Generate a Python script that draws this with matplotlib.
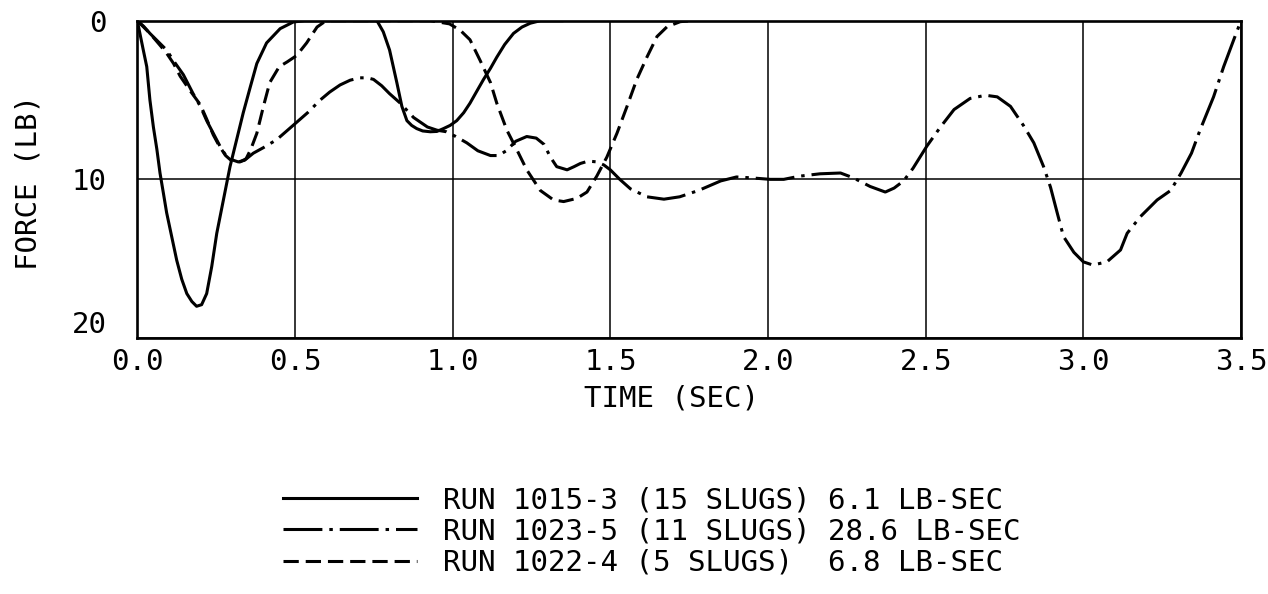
import matplotlib
matplotlib.use("Agg")
import matplotlib.pyplot as plt
from matplotlib.lines import Line2D
from matplotlib.transforms import ScaledTranslation

# ---------------- data ----------------
run_1015_t = [0, 0.019, 0.03, 0.04, 0.051, 0.062, 0.072, 0.083, 0.093, 0.109, 0.125,
              0.141, 0.157, 0.173, 0.188, 0.204, 0.22, 0.236, 0.252, 0.273, 0.294,
              0.315, 0.336, 0.358, 0.379, 0.41, 0.453, 0.495, 0.53, 0.76, 0.78, 0.80,
              0.823, 0.839, 0.855, 0.87, 0.886, 0.905, 0.929, 0.95, 0.971, 0.992,
              1.013, 1.035, 1.055, 1.075, 1.098, 1.12, 1.14, 1.165, 1.193, 1.22,
              1.246, 1.278, 1.35]
run_1015_f = [0, 1.85, 2.9, 5.0, 6.7, 8.1, 9.6, 10.9, 12.1, 13.6, 15.1,
              16.3, 17.2, 17.7, 18.0, 17.9, 17.2, 15.5, 13.4, 11.3, 9.2,
              7.5, 5.8, 4.2, 2.7, 1.4, 0.5, 0.08, 0, 0, 0.7, 1.85,
              3.9, 5.4, 6.3, 6.6, 6.8, 6.95, 7.0, 6.98, 6.8, 6.6,
              6.3, 5.8, 5.2, 4.5, 3.7, 3.0, 2.3, 1.5, 0.8, 0.4,
              0.16, 0, 0]

run_1023_t = [0, 0.02, 0.04, 0.05, 0.093, 0.114, 0.146, 0.177, 0.2, 0.22, 0.241,
              0.262, 0.284, 0.305, 0.32, 0.34, 0.368, 0.40, 0.442, 0.494, 0.54,
              0.58, 0.61, 0.643, 0.675, 0.706, 0.73, 0.749, 0.775, 0.80, 0.834,
              0.876, 0.92, 0.95, 0.98, 1.01, 1.045, 1.08, 1.12, 1.145, 1.17, 1.2,
              1.235, 1.265, 1.29, 1.31, 1.33, 1.363, 1.385, 1.405, 1.43, 1.458,
              1.48, 1.50, 1.53, 1.564, 1.616, 1.67, 1.72, 1.78, 1.85, 1.90, 1.943,
              2.007, 2.05, 2.10, 2.165, 2.23, 2.27, 2.324, 2.372, 2.40, 2.43, 2.46,
              2.504, 2.547, 2.59, 2.641, 2.69, 2.727, 2.769, 2.81, 2.843, 2.874,
              2.896, 2.917, 2.937, 2.97, 3.0, 3.03, 3.075, 3.118, 3.139, 3.181,
              3.234, 3.277, 3.31, 3.343, 3.37, 3.413, 3.445, 3.477, 3.5]
run_1023_f = [0, 0.35, 0.8, 1.0, 1.85, 2.5, 3.4, 4.6, 5.4, 6.3, 7.1,
              7.9, 8.6, 8.8, 8.9, 8.8, 8.35, 8.0, 7.5, 6.6, 5.8,
              5.0, 4.5, 4.05, 3.75, 3.6, 3.6, 3.7, 4.1, 4.6, 5.2,
              6.1, 6.7, 6.9, 7.0, 7.3, 7.7, 8.2, 8.5, 8.5, 8.2, 7.6,
              7.3, 7.4, 7.8, 8.6, 9.2, 9.4, 9.2, 9.0, 8.85, 8.9,
              9.1, 9.4, 10.0, 10.6, 11.1, 11.25, 11.1, 10.7, 10.1, 9.85, 9.9,
              10.0, 10.0, 9.8, 9.65, 9.6, 9.9, 10.45, 10.8, 10.55, 10.1, 9.3,
              7.9, 6.7, 5.6, 4.9, 4.7, 4.8, 5.4, 6.6, 7.7, 9.2,
              10.5, 12.1, 13.6, 14.6, 15.2, 15.4, 15.2, 14.45, 13.4, 12.35,
              11.3, 10.7, 9.6, 8.35, 6.9, 4.8, 2.9, 1.2, 0]

run_1022_t = [0, 0.02, 0.04, 0.07, 0.093, 0.115, 0.136, 0.167, 0.2, 0.22, 0.241,
              0.26, 0.28, 0.30, 0.326, 0.345, 0.36, 0.379, 0.40, 0.42, 0.45,
              0.475, 0.505, 0.537, 0.555, 0.57, 0.59, 0.61, 0.93, 0.99, 1.024,
              1.055, 1.087, 1.12, 1.14, 1.172, 1.204, 1.235, 1.278, 1.32, 1.352,
              1.394, 1.426, 1.457, 1.489, 1.521, 1.553, 1.584, 1.616, 1.648,
              1.68, 1.722, 1.76]
run_1022_f = [0, 0.4, 0.8, 1.5, 2.05, 2.7, 3.5, 4.4, 5.3, 6.2, 7.2,
              7.9, 8.5, 8.85, 8.9, 8.7, 8.1, 7.1, 5.4, 3.9, 2.9,
              2.6, 2.2, 1.4, 0.85, 0.4, 0.12, 0, 0, 0.2, 0.6,
              1.2, 2.5, 3.9, 5.2, 6.9, 8.15, 9.4, 10.7, 11.3, 11.4,
              11.2, 10.8, 9.8, 8.6, 7.1, 5.4, 3.7, 2.3, 1.0,
              0.38, 0.06, 0]

x_ticks = [0.0, 0.5, 1.0, 1.5, 2.0, 2.5, 3.0, 3.5]
x_tick_labels = ["0.0", "0.5", "1.0", "1.5", "2.0", "2.5", "3.0", "3.5"]
y_ticks = [0, 10, 20]
y_tick_labels = ["0", "10", "20"]

labels = ["RUN 1015-3 (15 SLUGS) 6.1 LB-SEC",
          "RUN 1023-5 (11 SLUGS) 28.6 LB-SEC",
          "RUN 1022-4 (5 SLUGS)  6.8 LB-SEC"]

# ---------------- style ----------------
plt.rcParams['font.family'] = ['DejaVu Sans Mono']
plt.rcParams['lines.scale_dashes'] = False
FS = 21
LW = 2.2
solid = '-'
dashdot = (0, (28, 5, 2.5, 5))
dashed = (0, (11, 5))

fig = plt.figure(figsize=(12.68, 5.94), dpi=100)
W, H = 1268, 594
ax = fig.add_axes([137.3 / W, (H - 338) / H, (1241 - 137.3) / W, (338 - 20.7) / H])

ax.plot(run_1015_t, run_1015_f, color='black', lw=LW, linestyle=solid, solid_capstyle='round')
ax.plot(run_1023_t, run_1023_f, color='black', lw=LW, linestyle=dashdot)
ax.plot(run_1022_t, run_1022_f, color='black', lw=LW, linestyle=dashed)

ax.set_xlim(0, 3.5)
ax.set_ylim(20, 0)
ax.set_xticks(x_ticks)
ax.set_xticklabels(x_tick_labels, fontsize=FS)
ax.set_yticks(y_ticks)
ax.set_yticklabels(y_tick_labels, fontsize=FS)
ax.tick_params(axis='x', length=0, pad=7)
ax.tick_params(axis='y', length=0, pad=22)
ax.grid(True, color='black', linewidth=1.1)
ax.set_axisbelow(True)
for s in ax.spines.values():
    s.set_linewidth(1.9)
    s.set_color('black')

# hand-lettered "20" sits a bit above its grid position
lab20 = ax.yaxis.get_major_ticks()[2].label1
lab20.set_transform(lab20.get_transform() + ScaledTranslation(0, 16 / 100, fig.dpi_scale_trans))

ax.set_xlabel("TIME (SEC)", fontsize=FS, va='center', ha='center')
ax.xaxis.set_label_coords((672 - 137.3) / (1241 - 137.3), -(399 - 338) / (338 - 20.7))
ax.set_ylabel("FORCE (LB)", fontsize=FS, va='center', ha='center')
ax.yaxis.set_label_coords(-(137.3 - 29) / (1241 - 137.3), 1 - (182 - 20.7) / (338 - 20.7))

handles = [Line2D([], [], color='black', lw=LW, linestyle=solid),
           Line2D([], [], color='black', lw=LW, linestyle=dashdot),
           Line2D([], [], color='black', lw=LW, linestyle=dashed)]
fig.legend(handles, labels, loc='upper left', bbox_to_anchor=(283 / W, 1 - 486 / H),
           frameon=False, borderpad=0, borderaxespad=0, handlelength=4.6,
           handletextpad=0.9, labelspacing=0.12, prop={'size': FS})

fig.savefig("out.png", dpi=100, facecolor='white')
